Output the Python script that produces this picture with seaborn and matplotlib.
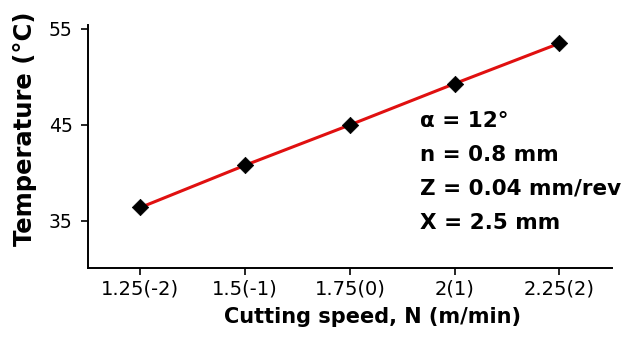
import matplotlib
matplotlib.use("Agg")
import matplotlib.pyplot as plt
import seaborn as sns
import pandas as pd

speed_labels = ["1.25(-2)", "1.5(-1)", "1.75(0)", "2(1)", "2.25(2)"]
temperature = [36.4, 40.8, 45.0, 49.3, 53.5]
y_ticks = [35, 45, 55]
params_text = ["α = 12°", "n = 0.8 mm", "Z = 0.04 mm/rev", "X = 2.5 mm"]

df = pd.DataFrame({"speed": speed_labels, "temp": temperature})

sns.set_theme(style="ticks")
plt.rcParams['font.family'] = ['DejaVu Sans']
plt.rcParams['text.color'] = 'black'
plt.rcParams['axes.labelcolor'] = 'black'
plt.rcParams['xtick.color'] = 'black'
plt.rcParams['ytick.color'] = 'black'

fig = plt.figure(figsize=(6.25, 3.43), dpi=100)
ax = fig.add_axes([0.1408, 0.2187, 0.8382, 0.7083])

sns.lineplot(data=df, x="speed", y="temp", color="#e01010", linewidth=2.2,
             ax=ax, sort=False)
sns.scatterplot(data=df, x="speed", y="temp", color="black", marker="D",
                s=70, edgecolor="black", linewidth=0.5, ax=ax, zorder=3)

ax.set_xlim(-0.5, 4.5)
ax.set_ylim(30.1, 55.4)
ax.set_yticks(y_ticks)
ax.set_yticklabels([str(v) for v in y_ticks], fontsize=13.5)
ax.set_xticks(range(len(speed_labels)))
ax.set_xticklabels(speed_labels, fontsize=14)

ax.set_xlabel("Cutting speed, N (m/min)", fontsize=15, fontweight="bold")
ax.xaxis.set_label_coords(0.544, -0.16)
ax.set_ylabel("Temperature (°C)", fontsize=17.5, fontweight="bold")
ax.yaxis.set_label_coords(-0.097, 0.572)

for side in ["top", "right"]:
    ax.spines[side].set_visible(False)
for side in ["left", "bottom"]:
    ax.spines[side].set_color("black")
    ax.spines[side].set_linewidth(1.4)
ax.tick_params(axis="both", direction="out", length=5, width=1.2,
               colors="black", pad=3)
ax.tick_params(axis="y", pad=6)

ax.text(0.634, 0.648, "\n".join(params_text), transform=ax.transAxes,
        fontsize=15.5, fontweight="bold", va="top", ha="left",
        linespacing=1.88, color="black")

fig.savefig("out.png", dpi=100)
